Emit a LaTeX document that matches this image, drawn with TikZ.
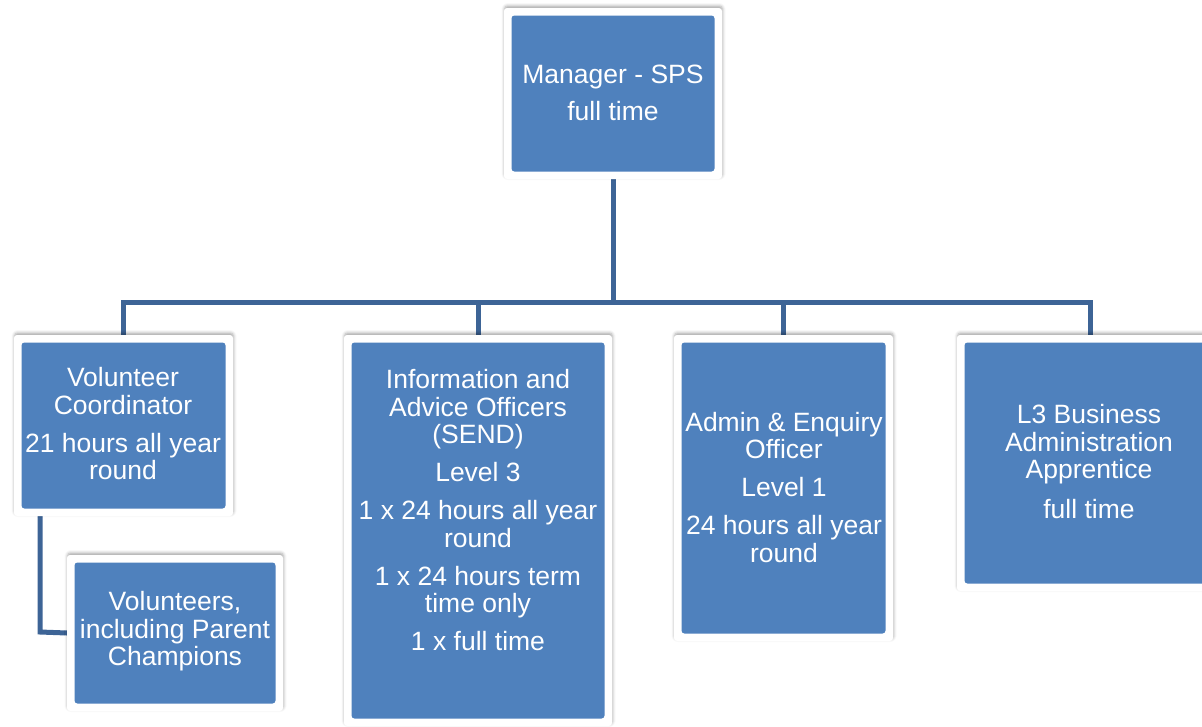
\documentclass[tikz,border=0pt]{standalone}
\usepackage{fontspec}
\setmainfont{Liberation Sans}
\usetikzlibrary{shadows,shadows.blur,backgrounds}
\definecolor{boxblue}{HTML}{4F81BD}
\definecolor{linkblue}{HTML}{3D6496}
\tikzset{
  orgbox/.style={rectangle, rounded corners=3pt, fill=white, inner sep=0pt, outer sep=0pt,
    blur shadow={shadow xshift=0.5pt, shadow yshift=2pt, shadow blur radius=3pt, shadow opacity=35},
    path picture={\fill[boxblue] ([shift={(7.5pt,-7.5pt)}]path picture bounding box.north west) rectangle ([shift={(-7.5pt,7.5pt)}]path picture bounding box.south east);}},
  orgtext/.style={text=white, align=center, font=\fontsize{26.5}{27.5}\selectfont, inner sep=0pt},
  link/.style={draw=linkblue, line width=5pt}
}
\begin{document}
\begin{tikzpicture}[x=1pt,y=-1pt]
\useasboundingbox (0,0) rectangle (1202,726);
\clip (0,0) rectangle (1202,726);
% boxes
\node[orgbox, minimum width=218pt, minimum height=171pt] (mgr) at (613,93.5) {};
\node[orgbox, minimum width=219pt, minimum height=181pt] (vc) at (123.5,425.5) {};
\node[orgbox, minimum width=268pt, minimum height=391pt] (info) at (478,530.5) {};
\node[orgbox, minimum width=219pt, minimum height=306pt] (admin) at (783.5,488) {};
\node[orgbox, minimum width=266pt, minimum height=256pt] (l3) at (1090,463) {};
\node[orgbox, minimum width=216pt, minimum height=156pt] (vol) at (175,633) {};
% texts
\node[orgtext] (mgrt) at (613,92.5) {Manager - SPS\\[9.5pt]full time};
\node[orgtext] (vct) at (123,424) {Volunteer\\Coordinator\\[10.5pt]21 hours all year\\round};
\node[orgtext] (infot) at (478,510.5) {Information and\\Advice Officers\\(SEND)\\[10.5pt]Level 3\\[10.5pt]1 x 24 hours all year\\round\\[10.5pt]1 x 24 hours term\\time only\\[10.5pt]1 x full time};
\node[orgtext] (admint) at (784,487.5) {Admin \& Enquiry\\Officer\\[10.5pt]Level 1\\[10.5pt]24 hours all year\\round};
\node[orgtext] (l3t) at (1089,462) {L3 Business\\Administration\\Apprentice\\[12.5pt]full time};
\node[orgtext] (volt) at (175,631.5) {Volunteers,\\including Parent\\Champions};
% connectors
\coordinate (bus) at (613,302);
\begin{scope}[on background layer]
\draw[link] (mgr.south) -- (bus);
\draw[link] (vc.north) -- (vc.north |- bus) -- (l3.north |- bus) -- (l3.north);
\draw[link] (info.north) -- (info.north |- bus);
\draw[link] (admin.north) -- (admin.north |- bus);
\draw[link] (vc.south -| 40,0) -- (40,632) -- (vol.west);
\end{scope}
\end{tikzpicture}
\end{document}
